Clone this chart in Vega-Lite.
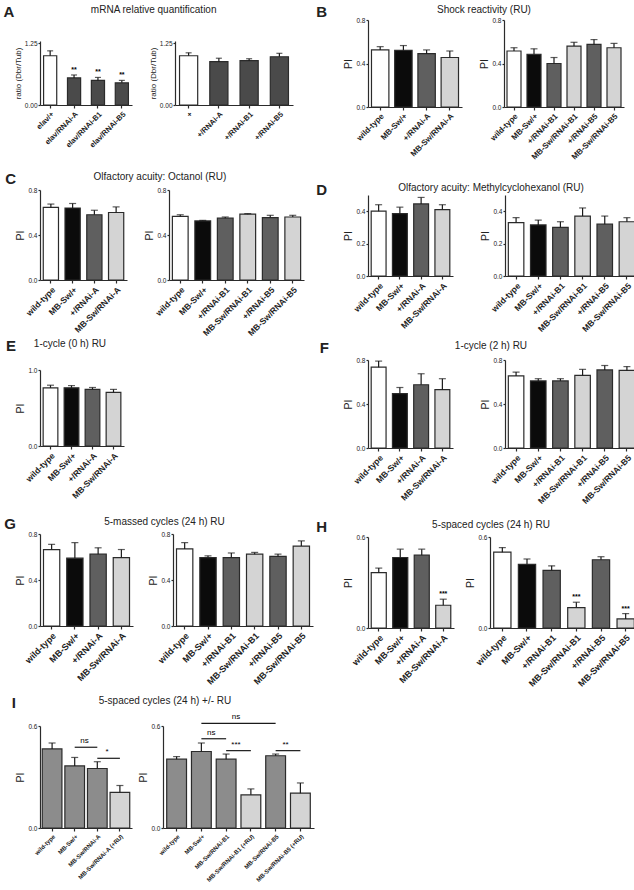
{
"$schema": "https://vega.github.io/schema/vega-lite/v6.json",
"background": "white",
"padding": {"left": 3, "top": 4, "right": 0, "bottom": 0},
"datasets": {
"aL": [{"g":"elav/+","c":"w","v":1.0,"hi":1.1,"s":""},{"g":"elav/RNAi-A","c":"a","v":0.55,"hi":0.61,"s":"**"},{"g":"elav/RNAi-B1","c":"a","v":0.5,"hi":0.56,"s":"**"},{"g":"elav/RNAi-B5","c":"a","v":0.45,"hi":0.5,"s":"**"}],
"aR": [{"g":"+","c":"w","v":1.0,"hi":1.06},{"g":"+/RNAi-A","c":"a","v":0.88,"hi":0.95},{"g":"+/RNAi-B1","c":"a","v":0.9,"hi":0.94},{"g":"+/RNAi-B5","c":"a","v":0.98,"hi":1.05}],
"bL": [{"g":"wild-type","c":"w","v":0.525,"hi":0.555},{"g":"MB-Sw/+","c":"k","v":0.52,"hi":0.565},{"g":"+/RNAi-A","c":"m","v":0.49,"hi":0.525},{"g":"MB-Sw/RNAi-A","c":"l","v":0.455,"hi":0.515}],
"bR": [{"g":"wild-type","c":"w","v":0.515,"hi":0.545},{"g":"MB-Sw/+","c":"k","v":0.485,"hi":0.535},{"g":"+/RNAi-B1","c":"m","v":0.4,"hi":0.455},{"g":"MB-Sw/RNAi-B1","c":"l","v":0.56,"hi":0.595},{"g":"+/RNAi-B5","c":"m","v":0.575,"hi":0.62},{"g":"MB-Sw/RNAi-B5","c":"l","v":0.545,"hi":0.585}],
"cL": [{"g":"wild-type","c":"w","v":0.645,"hi":0.675},{"g":"MB-Sw/+","c":"k","v":0.64,"hi":0.68},{"g":"+/RNAi-A","c":"m","v":0.58,"hi":0.62},{"g":"MB-Sw/RNAi-A","c":"l","v":0.6,"hi":0.65}],
"cR": [{"g":"wild-type","c":"w","v":0.565,"hi":0.58},{"g":"MB-Sw/+","c":"k","v":0.525,"hi":0.53},{"g":"+/RNAi-B1","c":"m","v":0.55,"hi":0.56},{"g":"MB-Sw/RNAi-B1","c":"l","v":0.585,"hi":0.59},{"g":"+/RNAi-B5","c":"m","v":0.555,"hi":0.575},{"g":"MB-Sw/RNAi-B5","c":"l","v":0.56,"hi":0.575}],
"dL": [{"g":"wild-type","c":"w","v":0.4,"hi":0.44},{"g":"MB-Sw/+","c":"k","v":0.385,"hi":0.425},{"g":"+/RNAi-A","c":"m","v":0.445,"hi":0.485},{"g":"MB-Sw/RNAi-A","c":"l","v":0.41,"hi":0.44}],
"dR": [{"g":"wild-type","c":"w","v":0.33,"hi":0.36},{"g":"MB-Sw/+","c":"k","v":0.315,"hi":0.345},{"g":"+/RNAi-B1","c":"m","v":0.3,"hi":0.335},{"g":"MB-Sw/RNAi-B1","c":"l","v":0.37,"hi":0.42},{"g":"+/RNAi-B5","c":"m","v":0.32,"hi":0.37},{"g":"MB-Sw/RNAi-B5","c":"l","v":0.335,"hi":0.36}],
"eL": [{"g":"wild-type","c":"w","v":0.765,"hi":0.8},{"g":"MB-Sw/+","c":"k","v":0.765,"hi":0.795},{"g":"+/RNAi-A","c":"m","v":0.745,"hi":0.77},{"g":"MB-Sw/RNAi-A","c":"l","v":0.705,"hi":0.745}],
"fL": [{"g":"wild-type","c":"w","v":0.735,"hi":0.79},{"g":"MB-Sw/+","c":"k","v":0.495,"hi":0.55},{"g":"+/RNAi-A","c":"m","v":0.575,"hi":0.675},{"g":"MB-Sw/RNAi-A","c":"l","v":0.53,"hi":0.63}],
"fR": [{"g":"wild-type","c":"w","v":0.655,"hi":0.69},{"g":"MB-Sw/+","c":"k","v":0.61,"hi":0.63},{"g":"+/RNAi-B1","c":"m","v":0.61,"hi":0.63},{"g":"MB-Sw/RNAi-B1","c":"l","v":0.66,"hi":0.715},{"g":"+/RNAi-B5","c":"m","v":0.71,"hi":0.75},{"g":"MB-Sw/RNAi-B5","c":"l","v":0.705,"hi":0.74}],
"gL": [{"g":"wild-type","c":"w","v":0.665,"hi":0.71},{"g":"MB-Sw/+","c":"k","v":0.59,"hi":0.725},{"g":"+/RNAi-A","c":"m","v":0.625,"hi":0.68},{"g":"MB-Sw/RNAi-A","c":"l","v":0.595,"hi":0.665}],
"gR": [{"g":"wild-type","c":"w","v":0.67,"hi":0.725},{"g":"MB-Sw/+","c":"k","v":0.595,"hi":0.61},{"g":"+/RNAi-B1","c":"m","v":0.595,"hi":0.635},{"g":"MB-Sw/RNAi-B1","c":"l","v":0.625,"hi":0.64},{"g":"+/RNAi-B5","c":"m","v":0.605,"hi":0.625},{"g":"MB-Sw/RNAi-B5","c":"l","v":0.695,"hi":0.74}],
"hL": [{"g":"wild-type","c":"w","v":0.365,"hi":0.395,"s":""},{"g":"MB-Sw/+","c":"k","v":0.465,"hi":0.52,"s":""},{"g":"+/RNAi-A","c":"m","v":0.48,"hi":0.52,"s":""},{"g":"MB-Sw/RNAi-A","c":"l","v":0.15,"hi":0.19,"s":"***"}],
"hR": [{"g":"wild-type","c":"w","v":0.5,"hi":0.53,"s":""},{"g":"MB-Sw/+","c":"k","v":0.42,"hi":0.455,"s":""},{"g":"+/RNAi-B1","c":"m","v":0.38,"hi":0.41,"s":""},{"g":"MB-Sw/RNAi-B1","c":"l","v":0.135,"hi":0.17,"s":"***"},{"g":"+/RNAi-B5","c":"m","v":0.45,"hi":0.47,"s":""},{"g":"MB-Sw/RNAi-B5","c":"l","v":0.06,"hi":0.095,"s":"***"}],
"iL": [{"g":"wild-type","c":"h","v":0.465,"hi":0.5},{"g":"MB-Sw/+","c":"h","v":0.365,"hi":0.415},{"g":"MB-Sw/RNAi-A","c":"h","v":0.35,"hi":0.39},{"g":"MB-Sw/RNAi-A (+RU)","c":"l","v":0.21,"hi":0.25}],
"iLs": [{"from":"MB-Sw/+","to":"MB-Sw/RNAi-A","at":"MB-Sw/+","y":0.475,"t":"ns"},{"from":"MB-Sw/RNAi-A","to":"MB-Sw/RNAi-A (+RU)","at":"MB-Sw/RNAi-A","y":0.41,"t":"*"}],
"iR": [{"g":"wild-type","c":"h","v":0.405,"hi":0.42},{"g":"MB-Sw/+","c":"h","v":0.45,"hi":0.5},{"g":"MB-Sw/RNAi-B1","c":"h","v":0.405,"hi":0.435},{"g":"MB-Sw/RNAi-B1 (+RU)","c":"l","v":0.195,"hi":0.23},{"g":"MB-Sw/RNAi-B5","c":"h","v":0.425,"hi":0.435},{"g":"MB-Sw/RNAi-B5 (+RU)","c":"l","v":0.205,"hi":0.265}],
"iRs": [{"from":"MB-Sw/+","to":"MB-Sw/RNAi-B5","at":"MB-Sw/RNAi-B1","y":0.615,"t":"ns"},{"from":"MB-Sw/+","to":"MB-Sw/RNAi-B1","at":"MB-Sw/+","y":0.525,"t":"ns"},{"from":"MB-Sw/RNAi-B1","to":"MB-Sw/RNAi-B1 (+RU)","at":"MB-Sw/RNAi-B1","y":0.455,"t":"***"},{"from":"MB-Sw/RNAi-B5","to":"MB-Sw/RNAi-B5 (+RU)","at":"MB-Sw/RNAi-B5","y":0.455,"t":"**"}]
},
"spacing": 2,
"hconcat": [
{"spacing": 0, "vconcat": [
 {"width": 1, "height": 1, "data": {"values": []}, "mark": "point"},
 {"spacing": 23, "vconcat": [
 {"title": {"text": "A", "orient": "left", "angle": 0, "anchor": "end", "align": "left", "baseline": "top", "fontSize": 15, "fontWeight": "bold", "offset": 0},
  "vconcat": [{"title": {"text": "mRNA relative quantification", "offset": 25, "anchor": "middle", "frame": "bounds"}, "bounds": "flush", "spacing": 43, "hconcat": [
   {"width": 92, "height": 64, "data": {"name": "aL"},
    "encoding": {"x": {"field": "g", "type": "nominal", "sort": null, "title": null, "axis": {"labelFontSize": 7.5}, "scale": {"paddingInner": 0.45, "paddingOuter": 0.15}}},
    "layer": [
     {"mark": {"type": "bar", "stroke": "#2b2b2b", "strokeWidth": 1.2}, "encoding": {"y": {"field": "v", "type": "quantitative", "title": "ratio (Dbr/Tub)", "scale": {"domain": [0, 1.25]}, "axis": {"values": [0, 0.25, 0.5, 0.75, 1, 1.25], "format": ".2f", "titleFontSize": 8}}, "fill": {"field": "c", "type": "nominal", "legend": null, "scale": {"domain": ["w","k","m","l","h","a"], "range": ["#ffffff","#0b0b0b","#5f5f5f","#d4d4d4","#8c8c8c","#4a4a4a"]}}}},
     {"mark": {"type": "rule", "color": "#1a1a1a", "strokeWidth": 1.2}, "encoding": {"y": {"field": "v", "type": "quantitative", "title": "ratio (Dbr/Tub)"}, "y2": {"field": "hi"}}},
     {"mark": {"type": "tick", "color": "#1a1a1a", "thickness": 1.2, "size": 6}, "encoding": {"y": {"field": "hi", "type": "quantitative", "title": "ratio (Dbr/Tub)"}}},
     {"mark": {"type": "text", "dy": -2, "fontSize": 7, "fontWeight": "bold", "baseline": "bottom"}, "encoding": {"y": {"field": "hi", "type": "quantitative", "title": "ratio (Dbr/Tub)"}, "text": {"field": "s"}}}
    ]},
   {"width": 118, "height": 64, "data": {"name": "aR"},
    "encoding": {"x": {"field": "g", "type": "nominal", "sort": null, "title": null, "axis": {"labelFontSize": 7.5}, "scale": {"paddingInner": 0.4, "paddingOuter": 0.15}}},
    "layer": [
     {"mark": {"type": "bar", "stroke": "#2b2b2b", "strokeWidth": 1.2}, "encoding": {"y": {"field": "v", "type": "quantitative", "title": "ratio (Dbr/Tub)", "scale": {"domain": [0, 1.25]}, "axis": {"values": [0, 0.25, 0.5, 0.75, 1, 1.25], "format": ".2f", "titleFontSize": 8}}, "fill": {"field": "c", "type": "nominal", "legend": null, "scale": {"domain": ["w","k","m","l","h","a"], "range": ["#ffffff","#0b0b0b","#5f5f5f","#d4d4d4","#8c8c8c","#4a4a4a"]}}}},
     {"mark": {"type": "rule", "color": "#1a1a1a", "strokeWidth": 1.2}, "encoding": {"y": {"field": "v", "type": "quantitative", "title": "ratio (Dbr/Tub)"}, "y2": {"field": "hi"}}},
     {"mark": {"type": "tick", "color": "#1a1a1a", "thickness": 1.2, "size": 6}, "encoding": {"y": {"field": "hi", "type": "quantitative", "title": "ratio (Dbr/Tub)"}}}
    ]}
  ]}]},
 {"spacing": 1, "vconcat": [
 {"title": {"text": "C", "orient": "left", "angle": 0, "anchor": "end", "align": "left", "baseline": "top", "fontSize": 15, "fontWeight": "bold", "offset": 0},
  "vconcat": [{"title": {"text": "Olfactory acuity: Octanol (RU)", "offset": 5, "anchor": "middle", "frame": "bounds"}, "bounds": "flush", "spacing": 42, "hconcat": [
   {"width": 87, "height": 90, "data": {"name": "cL"},
    "encoding": {"x": {"field": "g", "type": "nominal", "sort": null, "title": null, "axis": {"labelFontSize": 8.5}, "scale": {"paddingInner": 0.3, "paddingOuter": 0.15}}},
    "layer": [
     {"mark": {"type": "bar", "stroke": "#2b2b2b", "strokeWidth": 1.2}, "encoding": {"y": {"field": "v", "type": "quantitative", "title": "PI", "scale": {"domain": [0, 0.8]}, "axis": {"values": [0, 0.2, 0.4, 0.6, 0.8], "format": ".1f"}}, "fill": {"field": "c", "type": "nominal", "legend": null, "scale": {"domain": ["w","k","m","l","h","a"], "range": ["#ffffff","#0b0b0b","#5f5f5f","#d4d4d4","#8c8c8c","#4a4a4a"]}}}},
     {"mark": {"type": "rule", "color": "#1a1a1a", "strokeWidth": 1.2}, "encoding": {"y": {"field": "v", "type": "quantitative", "title": "PI"}, "y2": {"field": "hi"}}},
     {"mark": {"type": "tick", "color": "#1a1a1a", "thickness": 1.2, "size": 7}, "encoding": {"y": {"field": "hi", "type": "quantitative", "title": "PI"}}}
    ]},
   {"width": 135, "height": 90, "data": {"name": "cR"},
    "encoding": {"x": {"field": "g", "type": "nominal", "sort": null, "title": null, "axis": {"labelFontSize": 8.5}, "scale": {"paddingInner": 0.3, "paddingOuter": 0.15}}},
    "layer": [
     {"mark": {"type": "bar", "stroke": "#2b2b2b", "strokeWidth": 1.2}, "encoding": {"y": {"field": "v", "type": "quantitative", "title": "PI", "scale": {"domain": [0, 0.8]}, "axis": {"values": [0, 0.2, 0.4, 0.6, 0.8], "format": ".1f"}}, "fill": {"field": "c", "type": "nominal", "legend": null, "scale": {"domain": ["w","k","m","l","h","a"], "range": ["#ffffff","#0b0b0b","#5f5f5f","#d4d4d4","#8c8c8c","#4a4a4a"]}}}},
     {"mark": {"type": "rule", "color": "#1a1a1a", "strokeWidth": 1.2}, "encoding": {"y": {"field": "v", "type": "quantitative", "title": "PI"}, "y2": {"field": "hi"}}},
     {"mark": {"type": "tick", "color": "#1a1a1a", "thickness": 1.2, "size": 7}, "encoding": {"y": {"field": "hi", "type": "quantitative", "title": "PI"}}}
    ]}
  ]}]},
 {"spacing": 17, "vconcat": [
 {"title": {"text": "E", "orient": "left", "angle": 0, "anchor": "end", "align": "left", "baseline": "top", "fontSize": 15, "fontWeight": "bold", "offset": 0},
  "vconcat": [{"title": {"text": "1-cycle (0 h) RU", "offset": 18, "anchor": "middle", "frame": "bounds"}, "bounds": "flush", "hconcat": [
   {"width": 84, "height": 76, "data": {"name": "eL"},
    "encoding": {"x": {"field": "g", "type": "nominal", "sort": null, "title": null, "axis": {"labelFontSize": 8.5}, "scale": {"paddingInner": 0.3, "paddingOuter": 0.15}}},
    "layer": [
     {"mark": {"type": "bar", "stroke": "#2b2b2b", "strokeWidth": 1.2}, "encoding": {"y": {"field": "v", "type": "quantitative", "title": "PI", "scale": {"domain": [0, 1]}, "axis": {"values": [0, 0.2, 0.4, 0.6, 0.8, 1], "format": ".1f"}}, "fill": {"field": "c", "type": "nominal", "legend": null, "scale": {"domain": ["w","k","m","l","h","a"], "range": ["#ffffff","#0b0b0b","#5f5f5f","#d4d4d4","#8c8c8c","#4a4a4a"]}}}},
     {"mark": {"type": "rule", "color": "#1a1a1a", "strokeWidth": 1.2}, "encoding": {"y": {"field": "v", "type": "quantitative", "title": "PI"}, "y2": {"field": "hi"}}},
     {"mark": {"type": "tick", "color": "#1a1a1a", "thickness": 1.2, "size": 7}, "encoding": {"y": {"field": "hi", "type": "quantitative", "title": "PI"}}}
    ]}
  ]}]},
 {"spacing": 9, "vconcat": [
 {"title": {"text": "G", "orient": "left", "angle": 0, "anchor": "end", "align": "left", "baseline": "top", "fontSize": 15, "fontWeight": "bold", "offset": 0},
  "vconcat": [{"title": {"text": "5-massed cycles (24 h) RU", "offset": 4, "anchor": "middle", "frame": "bounds"}, "bounds": "flush", "spacing": 40, "hconcat": [
   {"width": 93, "height": 92, "data": {"name": "gL"},
    "encoding": {"x": {"field": "g", "type": "nominal", "sort": null, "title": null, "axis": {"labelFontSize": 9}, "scale": {"paddingInner": 0.3, "paddingOuter": 0.15}}},
    "layer": [
     {"mark": {"type": "bar", "stroke": "#2b2b2b", "strokeWidth": 1.2}, "encoding": {"y": {"field": "v", "type": "quantitative", "title": "PI", "scale": {"domain": [0, 0.8]}, "axis": {"values": [0, 0.2, 0.4, 0.6, 0.8], "format": ".1f"}}, "fill": {"field": "c", "type": "nominal", "legend": null, "scale": {"domain": ["w","k","m","l","h","a"], "range": ["#ffffff","#0b0b0b","#5f5f5f","#d4d4d4","#8c8c8c","#4a4a4a"]}}}},
     {"mark": {"type": "rule", "color": "#1a1a1a", "strokeWidth": 1.2}, "encoding": {"y": {"field": "v", "type": "quantitative", "title": "PI"}, "y2": {"field": "hi"}}},
     {"mark": {"type": "tick", "color": "#1a1a1a", "thickness": 1.2, "size": 7}, "encoding": {"y": {"field": "hi", "type": "quantitative", "title": "PI"}}}
    ]},
   {"width": 140, "height": 92, "data": {"name": "gR"},
    "encoding": {"x": {"field": "g", "type": "nominal", "sort": null, "title": null, "axis": {"labelFontSize": 9}, "scale": {"paddingInner": 0.3, "paddingOuter": 0.15}}},
    "layer": [
     {"mark": {"type": "bar", "stroke": "#2b2b2b", "strokeWidth": 1.2}, "encoding": {"y": {"field": "v", "type": "quantitative", "title": "PI", "scale": {"domain": [0, 0.8]}, "axis": {"values": [0, 0.2, 0.4, 0.6, 0.8], "format": ".1f"}}, "fill": {"field": "c", "type": "nominal", "legend": null, "scale": {"domain": ["w","k","m","l","h","a"], "range": ["#ffffff","#0b0b0b","#5f5f5f","#d4d4d4","#8c8c8c","#4a4a4a"]}}}},
     {"mark": {"type": "rule", "color": "#1a1a1a", "strokeWidth": 1.2}, "encoding": {"y": {"field": "v", "type": "quantitative", "title": "PI"}, "y2": {"field": "hi"}}},
     {"mark": {"type": "tick", "color": "#1a1a1a", "thickness": 1.2, "size": 7}, "encoding": {"y": {"field": "hi", "type": "quantitative", "title": "PI"}}}
    ]}
  ]}]},
 {"title": {"text": "I", "orient": "left", "angle": 0, "anchor": "end", "align": "left", "baseline": "top", "fontSize": 15, "fontWeight": "bold", "offset": 0},
  "vconcat": [{"title": {"text": "5-spaced cycles (24 h) +/- RU", "offset": 7, "anchor": "middle", "frame": "bounds"}, "bounds": "flush", "spacing": 31, "hconcat": [
   {"width": 92, "height": 102,
    "encoding": {"x": {"field": "g", "type": "nominal", "sort": null, "title": null, "axis": {"labelFontSize": 6}, "scale": {"domain": ["wild-type","MB-Sw/+","MB-Sw/RNAi-A","MB-Sw/RNAi-A (+RU)"], "paddingInner": 0.13, "paddingOuter": 0.1}}},
    "layer": [
     {"data": {"name": "iL"}, "mark": {"type": "bar", "stroke": "#2b2b2b", "strokeWidth": 1.2}, "encoding": {"y": {"field": "v", "type": "quantitative", "title": "PI", "scale": {"domain": [0, 0.6]}, "axis": {"values": [0, 0.2, 0.4, 0.6], "format": ".1f"}}, "fill": {"field": "c", "type": "nominal", "legend": null, "scale": {"domain": ["w","k","m","l","h","a"], "range": ["#ffffff","#0b0b0b","#5f5f5f","#d4d4d4","#8c8c8c","#4a4a4a"]}}}},
     {"data": {"name": "iL"}, "mark": {"type": "rule", "color": "#1a1a1a", "strokeWidth": 1.2}, "encoding": {"y": {"field": "v", "type": "quantitative", "title": "PI"}, "y2": {"field": "hi"}}},
     {"data": {"name": "iL"}, "mark": {"type": "tick", "color": "#1a1a1a", "thickness": 1.2, "size": 7}, "encoding": {"y": {"field": "hi", "type": "quantitative", "title": "PI"}}},
     {"data": {"name": "iLs"}, "mark": {"type": "rule", "color": "#1a1a1a", "strokeWidth": 1.2}, "encoding": {"x": {"field": "from", "type": "nominal", "sort": null, "title": null}, "x2": {"field": "to"}, "y": {"field": "y", "type": "quantitative", "title": "PI"}}},
     {"data": {"name": "iLs"}, "mark": {"type": "text", "fontSize": 8, "baseline": "bottom", "dy": -2}, "encoding": {"x": {"field": "at", "type": "nominal", "sort": null, "title": null, "bandPosition": 1}, "y": {"field": "y", "type": "quantitative", "title": "PI"}, "text": {"field": "t"}}}
    ]},
   {"width": 151, "height": 102,
    "encoding": {"x": {"field": "g", "type": "nominal", "sort": null, "title": null, "axis": {"labelFontSize": 6}, "scale": {"domain": ["wild-type","MB-Sw/+","MB-Sw/RNAi-B1","MB-Sw/RNAi-B1 (+RU)","MB-Sw/RNAi-B5","MB-Sw/RNAi-B5 (+RU)"], "paddingInner": 0.2, "paddingOuter": 0.15}}},
    "layer": [
     {"data": {"name": "iR"}, "mark": {"type": "bar", "stroke": "#2b2b2b", "strokeWidth": 1.2}, "encoding": {"y": {"field": "v", "type": "quantitative", "title": "PI", "scale": {"domain": [0, 0.6]}, "axis": {"values": [0, 0.2, 0.4, 0.6], "format": ".1f"}}, "fill": {"field": "c", "type": "nominal", "legend": null, "scale": {"domain": ["w","k","m","l","h","a"], "range": ["#ffffff","#0b0b0b","#5f5f5f","#d4d4d4","#8c8c8c","#4a4a4a"]}}}},
     {"data": {"name": "iR"}, "mark": {"type": "rule", "color": "#1a1a1a", "strokeWidth": 1.2}, "encoding": {"y": {"field": "v", "type": "quantitative", "title": "PI"}, "y2": {"field": "hi"}}},
     {"data": {"name": "iR"}, "mark": {"type": "tick", "color": "#1a1a1a", "thickness": 1.2, "size": 7}, "encoding": {"y": {"field": "hi", "type": "quantitative", "title": "PI"}}},
     {"data": {"name": "iRs"}, "mark": {"type": "rule", "color": "#1a1a1a", "strokeWidth": 1.2}, "encoding": {"x": {"field": "from", "type": "nominal", "sort": null, "title": null}, "x2": {"field": "to"}, "y": {"field": "y", "type": "quantitative", "title": "PI"}}},
     {"data": {"name": "iRs"}, "mark": {"type": "text", "fontSize": 8, "baseline": "bottom", "dy": -2}, "encoding": {"x": {"field": "at", "type": "nominal", "sort": null, "title": null, "bandPosition": 1}, "y": {"field": "y", "type": "quantitative", "title": "PI"}, "text": {"field": "t"}}}
    ]}
  ]}]}
 ]}]}]}]}]},
{"spacing": 0, "vconcat": [
 {"width": 1, "height": 1, "data": {"values": []}, "mark": "point"},
 {"spacing": 21, "vconcat": [
 {"title": {"text": "B", "orient": "left", "angle": 0, "anchor": "end", "align": "right", "baseline": "top", "fontSize": 15, "fontWeight": "bold", "offset": 6},
  "vconcat": [{"title": {"text": "Shock reactivity (RU)", "offset": 2, "anchor": "middle", "frame": "bounds"}, "bounds": "flush", "spacing": 42, "hconcat": [
   {"width": 94, "height": 87, "data": {"name": "bL"},
    "encoding": {"x": {"field": "g", "type": "nominal", "sort": null, "title": null, "axis": {"labelFontSize": 8}, "scale": {"paddingInner": 0.25, "paddingOuter": 0.15}}},
    "layer": [
     {"mark": {"type": "bar", "stroke": "#2b2b2b", "strokeWidth": 1.2}, "encoding": {"y": {"field": "v", "type": "quantitative", "title": "PI", "scale": {"domain": [0, 0.8]}, "axis": {"values": [0, 0.2, 0.4, 0.6, 0.8], "format": ".1f"}}, "fill": {"field": "c", "type": "nominal", "legend": null, "scale": {"domain": ["w","k","m","l","h","a"], "range": ["#ffffff","#0b0b0b","#5f5f5f","#d4d4d4","#8c8c8c","#4a4a4a"]}}}},
     {"mark": {"type": "rule", "color": "#1a1a1a", "strokeWidth": 1.2}, "encoding": {"y": {"field": "v", "type": "quantitative", "title": "PI"}, "y2": {"field": "hi"}}},
     {"mark": {"type": "tick", "color": "#1a1a1a", "thickness": 1.2, "size": 7}, "encoding": {"y": {"field": "hi", "type": "quantitative", "title": "PI"}}}
    ]},
   {"width": 120, "height": 87, "data": {"name": "bR"},
    "encoding": {"x": {"field": "g", "type": "nominal", "sort": null, "title": null, "axis": {"labelFontSize": 8}, "scale": {"paddingInner": 0.3, "paddingOuter": 0.15}}},
    "layer": [
     {"mark": {"type": "bar", "stroke": "#2b2b2b", "strokeWidth": 1.2}, "encoding": {"y": {"field": "v", "type": "quantitative", "title": "PI", "scale": {"domain": [0, 0.8]}, "axis": {"values": [0, 0.2, 0.4, 0.6, 0.8], "format": ".1f"}}, "fill": {"field": "c", "type": "nominal", "legend": null, "scale": {"domain": ["w","k","m","l","h","a"], "range": ["#ffffff","#0b0b0b","#5f5f5f","#d4d4d4","#8c8c8c","#4a4a4a"]}}}},
     {"mark": {"type": "rule", "color": "#1a1a1a", "strokeWidth": 1.2}, "encoding": {"y": {"field": "v", "type": "quantitative", "title": "PI"}, "y2": {"field": "hi"}}},
     {"mark": {"type": "tick", "color": "#1a1a1a", "thickness": 1.2, "size": 7}, "encoding": {"y": {"field": "hi", "type": "quantitative", "title": "PI"}}}
    ]}
  ]}]},
 {"spacing": 7, "vconcat": [
 {"title": {"text": "D", "orient": "left", "angle": 0, "anchor": "end", "align": "right", "baseline": "top", "fontSize": 15, "fontWeight": "bold", "offset": 6},
  "vconcat": [{"title": {"text": "Olfactory acuity: Methylcyclohexanol (RU)", "offset": 2, "anchor": "middle", "frame": "bounds"}, "bounds": "flush", "spacing": 52, "hconcat": [
   {"width": 85, "height": 81, "data": {"name": "dL"},
    "encoding": {"x": {"field": "g", "type": "nominal", "sort": null, "title": null, "axis": {"labelFontSize": 8.5}, "scale": {"paddingInner": 0.3, "paddingOuter": 0.15}}},
    "layer": [
     {"mark": {"type": "bar", "stroke": "#2b2b2b", "strokeWidth": 1.2}, "encoding": {"y": {"field": "v", "type": "quantitative", "title": "PI", "scale": {"domain": [0, 0.5]}, "axis": {"values": [0, 0.1, 0.2, 0.3, 0.4, 0.5], "format": ".1f"}}, "fill": {"field": "c", "type": "nominal", "legend": null, "scale": {"domain": ["w","k","m","l","h","a"], "range": ["#ffffff","#0b0b0b","#5f5f5f","#d4d4d4","#8c8c8c","#4a4a4a"]}}}},
     {"mark": {"type": "rule", "color": "#1a1a1a", "strokeWidth": 1.2}, "encoding": {"y": {"field": "v", "type": "quantitative", "title": "PI"}, "y2": {"field": "hi"}}},
     {"mark": {"type": "tick", "color": "#1a1a1a", "thickness": 1.2, "size": 7}, "encoding": {"y": {"field": "hi", "type": "quantitative", "title": "PI"}}}
    ]},
   {"width": 133, "height": 81, "data": {"name": "dR"},
    "encoding": {"x": {"field": "g", "type": "nominal", "sort": null, "title": null, "axis": {"labelFontSize": 8.5}, "scale": {"paddingInner": 0.3, "paddingOuter": 0.15}}},
    "layer": [
     {"mark": {"type": "bar", "stroke": "#2b2b2b", "strokeWidth": 1.2}, "encoding": {"y": {"field": "v", "type": "quantitative", "title": "PI", "scale": {"domain": [0, 0.5]}, "axis": {"values": [0, 0.1, 0.2, 0.3, 0.4, 0.5], "format": ".1f"}}, "fill": {"field": "c", "type": "nominal", "legend": null, "scale": {"domain": ["w","k","m","l","h","a"], "range": ["#ffffff","#0b0b0b","#5f5f5f","#d4d4d4","#8c8c8c","#4a4a4a"]}}}},
     {"mark": {"type": "rule", "color": "#1a1a1a", "strokeWidth": 1.2}, "encoding": {"y": {"field": "v", "type": "quantitative", "title": "PI"}, "y2": {"field": "hi"}}},
     {"mark": {"type": "tick", "color": "#1a1a1a", "thickness": 1.2, "size": 7}, "encoding": {"y": {"field": "hi", "type": "quantitative", "title": "PI"}}}
    ]}
  ]}]},
 {"spacing": 14, "vconcat": [
 {"title": {"text": "F", "orient": "left", "angle": 0, "anchor": "end", "align": "right", "baseline": "top", "fontSize": 15, "fontWeight": "bold", "offset": 6},
  "vconcat": [{"title": {"text": "1-cycle (2 h) RU", "offset": 6, "anchor": "middle", "frame": "bounds"}, "bounds": "flush", "spacing": 52, "hconcat": [
   {"width": 85, "height": 88, "data": {"name": "fL"},
    "encoding": {"x": {"field": "g", "type": "nominal", "sort": null, "title": null, "axis": {"labelFontSize": 8.5}, "scale": {"paddingInner": 0.3, "paddingOuter": 0.15}}},
    "layer": [
     {"mark": {"type": "bar", "stroke": "#2b2b2b", "strokeWidth": 1.2}, "encoding": {"y": {"field": "v", "type": "quantitative", "title": "PI", "scale": {"domain": [0, 0.8]}, "axis": {"values": [0, 0.2, 0.4, 0.6, 0.8], "format": ".1f"}}, "fill": {"field": "c", "type": "nominal", "legend": null, "scale": {"domain": ["w","k","m","l","h","a"], "range": ["#ffffff","#0b0b0b","#5f5f5f","#d4d4d4","#8c8c8c","#4a4a4a"]}}}},
     {"mark": {"type": "rule", "color": "#1a1a1a", "strokeWidth": 1.2}, "encoding": {"y": {"field": "v", "type": "quantitative", "title": "PI"}, "y2": {"field": "hi"}}},
     {"mark": {"type": "tick", "color": "#1a1a1a", "thickness": 1.2, "size": 7}, "encoding": {"y": {"field": "hi", "type": "quantitative", "title": "PI"}}}
    ]},
   {"width": 133, "height": 88, "data": {"name": "fR"},
    "encoding": {"x": {"field": "g", "type": "nominal", "sort": null, "title": null, "axis": {"labelFontSize": 8.5}, "scale": {"paddingInner": 0.3, "paddingOuter": 0.15}}},
    "layer": [
     {"mark": {"type": "bar", "stroke": "#2b2b2b", "strokeWidth": 1.2}, "encoding": {"y": {"field": "v", "type": "quantitative", "title": "PI", "scale": {"domain": [0, 0.8]}, "axis": {"values": [0, 0.2, 0.4, 0.6, 0.8], "format": ".1f"}}, "fill": {"field": "c", "type": "nominal", "legend": null, "scale": {"domain": ["w","k","m","l","h","a"], "range": ["#ffffff","#0b0b0b","#5f5f5f","#d4d4d4","#8c8c8c","#4a4a4a"]}}}},
     {"mark": {"type": "rule", "color": "#1a1a1a", "strokeWidth": 1.2}, "encoding": {"y": {"field": "v", "type": "quantitative", "title": "PI"}, "y2": {"field": "hi"}}},
     {"mark": {"type": "tick", "color": "#1a1a1a", "thickness": 1.2, "size": 7}, "encoding": {"y": {"field": "hi", "type": "quantitative", "title": "PI"}}}
    ]}
  ]}]},
 {"title": {"text": "H", "orient": "left", "angle": 0, "anchor": "end", "align": "right", "baseline": "top", "fontSize": 15, "fontWeight": "bold", "offset": 6},
  "vconcat": [{"title": {"text": "5-spaced cycles (24 h) RU", "offset": 4, "anchor": "middle", "frame": "bounds"}, "bounds": "flush", "spacing": 36, "hconcat": [
   {"width": 86, "height": 91, "data": {"name": "hL"},
    "encoding": {"x": {"field": "g", "type": "nominal", "sort": null, "title": null, "axis": {"labelFontSize": 9}, "scale": {"paddingInner": 0.3, "paddingOuter": 0.15}}},
    "layer": [
     {"mark": {"type": "bar", "stroke": "#2b2b2b", "strokeWidth": 1.2}, "encoding": {"y": {"field": "v", "type": "quantitative", "title": "PI", "scale": {"domain": [0, 0.6]}, "axis": {"values": [0, 0.2, 0.4, 0.6], "format": ".1f"}}, "fill": {"field": "c", "type": "nominal", "legend": null, "scale": {"domain": ["w","k","m","l","h","a"], "range": ["#ffffff","#0b0b0b","#5f5f5f","#d4d4d4","#8c8c8c","#4a4a4a"]}}}},
     {"mark": {"type": "rule", "color": "#1a1a1a", "strokeWidth": 1.2}, "encoding": {"y": {"field": "v", "type": "quantitative", "title": "PI"}, "y2": {"field": "hi"}}},
     {"mark": {"type": "tick", "color": "#1a1a1a", "thickness": 1.2, "size": 7}, "encoding": {"y": {"field": "hi", "type": "quantitative", "title": "PI"}}},
     {"mark": {"type": "text", "dy": -2, "fontSize": 7, "fontWeight": "bold", "baseline": "bottom"}, "encoding": {"y": {"field": "hi", "type": "quantitative", "title": "PI"}, "text": {"field": "s"}}}
    ]},
   {"width": 148, "height": 91, "data": {"name": "hR"},
    "encoding": {"x": {"field": "g", "type": "nominal", "sort": null, "title": null, "axis": {"labelFontSize": 9}, "scale": {"paddingInner": 0.3, "paddingOuter": 0.15}}},
    "layer": [
     {"mark": {"type": "bar", "stroke": "#2b2b2b", "strokeWidth": 1.2}, "encoding": {"y": {"field": "v", "type": "quantitative", "title": "PI", "scale": {"domain": [0, 0.6]}, "axis": {"values": [0, 0.2, 0.4, 0.6], "format": ".1f"}}, "fill": {"field": "c", "type": "nominal", "legend": null, "scale": {"domain": ["w","k","m","l","h","a"], "range": ["#ffffff","#0b0b0b","#5f5f5f","#d4d4d4","#8c8c8c","#4a4a4a"]}}}},
     {"mark": {"type": "rule", "color": "#1a1a1a", "strokeWidth": 1.2}, "encoding": {"y": {"field": "v", "type": "quantitative", "title": "PI"}, "y2": {"field": "hi"}}},
     {"mark": {"type": "tick", "color": "#1a1a1a", "thickness": 1.2, "size": 7}, "encoding": {"y": {"field": "hi", "type": "quantitative", "title": "PI"}}},
     {"mark": {"type": "text", "dy": -2, "fontSize": 7, "fontWeight": "bold", "baseline": "bottom"}, "encoding": {"y": {"field": "hi", "type": "quantitative", "title": "PI"}, "text": {"field": "s"}}}
    ]}
  ]}]}
 ]}]}]}]}
],
"config": {
 "font": "Liberation Sans",
 "view": {"stroke": null},
 "axis": {"grid": false, "domainColor": "#2b2b2b", "domainWidth": 1.2, "tickColor": "#2b2b2b", "tickWidth": 1.2, "labelColor": "#222222", "labelFont": "Liberation Sans", "titleFont": "Liberation Sans", "titleFontWeight": "normal", "titleColor": "#222222"},
 "axisY": {"labelFontSize": 6.5, "titleFontSize": 10.5, "titlePadding": 2, "labelPadding": 1, "tickSize": 2},
 "axisX": {"labelAngle": -45, "labelFontSize": 8.5, "labelFontWeight": "bold", "labelPadding": 2, "tickSize": 3},
 "title": {"font": "Liberation Sans", "fontSize": 10, "fontWeight": "normal", "color": "#222222"}
}
}
